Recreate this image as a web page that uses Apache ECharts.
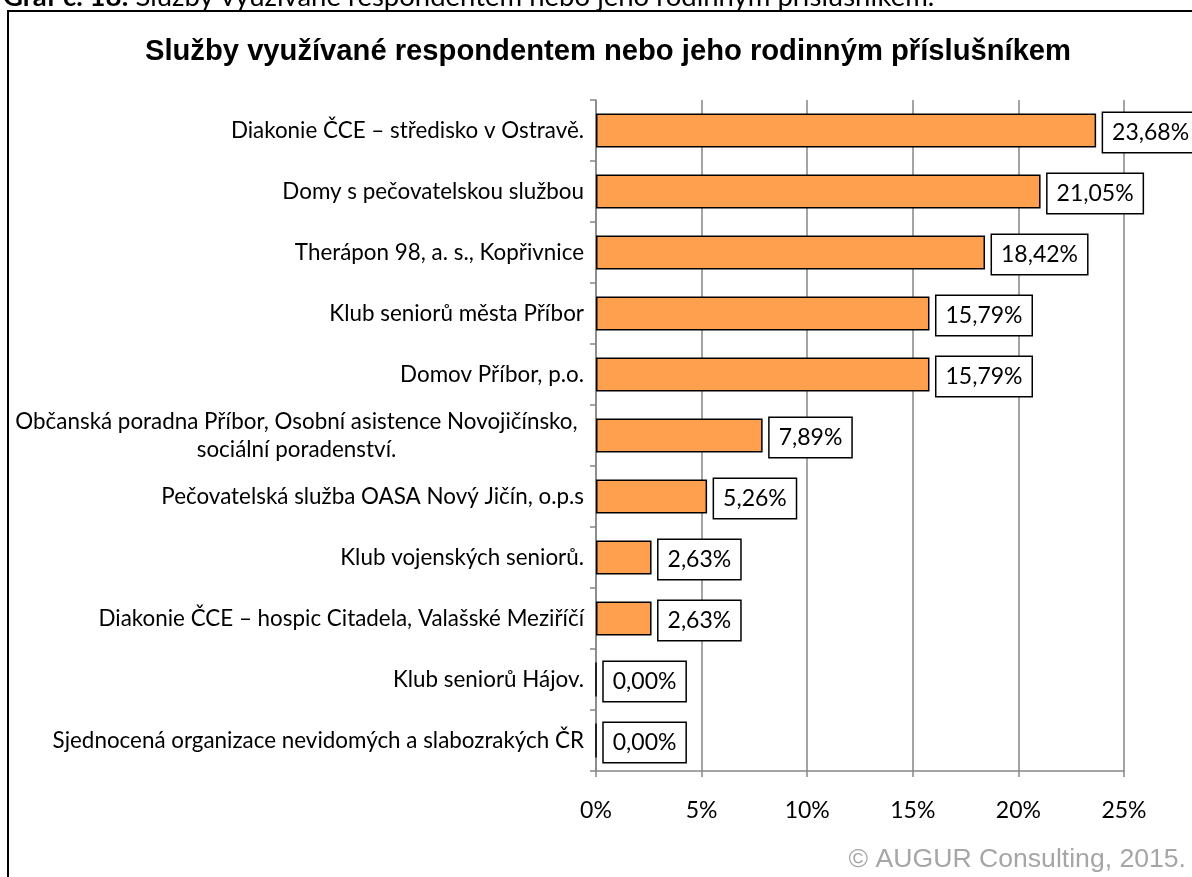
<!DOCTYPE html>
<html><head><meta charset="utf-8">
<script src="https://cdn.jsdelivr.net/npm/echarts@6/dist/echarts.min.js"></script>
<style>html,body{margin:0;padding:0;background:#fff}#c{width:1192px;height:877px}</style>
</head><body><div id="c"></div>
<script>
const categories = [
  'Diakonie ČCE – středisko v Ostravě.',
  'Domy s pečovatelskou službou',
  'Therápon 98, a. s., Kopřivnice',
  'Klub seniorů města Příbor',
  'Domov Příbor, p.o.',
  'Občanská poradna Příbor, Osobní asistence Novojičínsko,\nsociální poradenství.',
  'Pečovatelská služba OASA Nový Jičín, o.p.s',
  'Klub vojenských seniorů.',
  'Diakonie ČCE – hospic Citadela, Valašské Meziříčí',
  'Klub seniorů Hájov.',
  'Sjednocená organizace nevidomých a slabozrakých ČR'
];
const values = [23.68, 21.05, 18.42, 15.79, 15.79, 7.89, 5.26, 2.63, 2.63, 0.00, 0.00];
const xTicks = [0, 5, 10, 15, 20, 25];
const titleText = 'Služby využívané respondentem nebo jeho rodinným příslušníkem';
const captionBold = 'Graf č. 18:';
const captionText = ' Služby využívané respondentem nebo jeho rodinným příslušníkem.';
const copyright = '© AUGUR Consulting, 2015.';

const chart = echarts.init(document.getElementById('c'));
const labelFont = 'Lato';
chart.setOption({
  animation: false,
  backgroundColor: '#fff',
  graphic: [
    {type: 'rect', shape: {x: 8, y: 11, width: 1400, height: 1000}, style: {fill: 'none', stroke: '#000', lineWidth: 2}, z: 0},
    {type: 'text', left: 3, top: -17, style: {
      text: '{b|' + captionBold + '}{n|' + captionText + '}',
      rich: {b: {fontFamily: labelFont, fontWeight: 'bold', fontSize: 27.5, fill: '#000'},
             n: {fontFamily: labelFont, fontSize: 27.5, fill: '#000'}}}},
    {type: 'text', x: 608, y: 52, style: {text: titleText, fontFamily: 'Liberation Sans', fontWeight: 'bold', fontSize: 29.2, fill: '#000', align: 'center', verticalAlign: 'middle'}},
    {type: 'text', x: 1186, y: 860, style: {text: copyright, fontFamily: 'Liberation Sans', fontSize: 26.6, fill: '#a6a6a6', align: 'right', verticalAlign: 'middle'}}
  ],
  grid: {left: 596, right: 68, top: 100, bottom: 106, containLabel: false},
  xAxis: {
    type: 'value', min: 0, max: 25, interval: 5,
    axisLine: {show: true, lineStyle: {color: '#868686', width: 1.5}},
    axisTick: {show: true, length: 6, lineStyle: {color: '#868686', width: 1.5}},
    splitLine: {show: true, lineStyle: {color: '#868686', width: 1.5}},
    axisLabel: {margin: 28, fontFamily: labelFont, fontSize: 23, color: '#000',
      formatter: v => xTicks.includes(v) ? v + '%' : ''}
  },
  yAxis: {
    type: 'category', inverse: true, data: categories,
    axisLine: {show: true, lineStyle: {color: '#868686', width: 1.5}},
    axisTick: {show: true, length: 6, inside: false, lineStyle: {color: '#868686', width: 1.5}},
    axisLabel: {margin: 12, fontFamily: labelFont, fontSize: 22.4, color: '#000', lineHeight: 28,
      formatter: v => v.indexOf('\n') >= 0 ? v.split('\n').map(s => '{c|' + s + '}').join('\n') : v,
      rich: {c: {width: 575, align: 'center', fontFamily: labelFont, fontSize: 22.4, color: '#000', lineHeight: 28}}}
  },
  series: [{
    type: 'bar', data: values, barWidth: 34,
    itemStyle: {color: '#FFA04F', borderColor: '#000', borderWidth: 1.5},
    label: {show: true, position: 'right', distance: 7, offset: [0, 2],
      formatter: p => p.value.toFixed(2).replace('.', ',') + '%',
      fontFamily: labelFont, fontSize: 23, color: '#000', lineHeight: 28,
      backgroundColor: '#fff', borderColor: '#000', borderWidth: 1.5, padding: [6, 9, 5, 9]}
  }]
});
</script></body></html>
